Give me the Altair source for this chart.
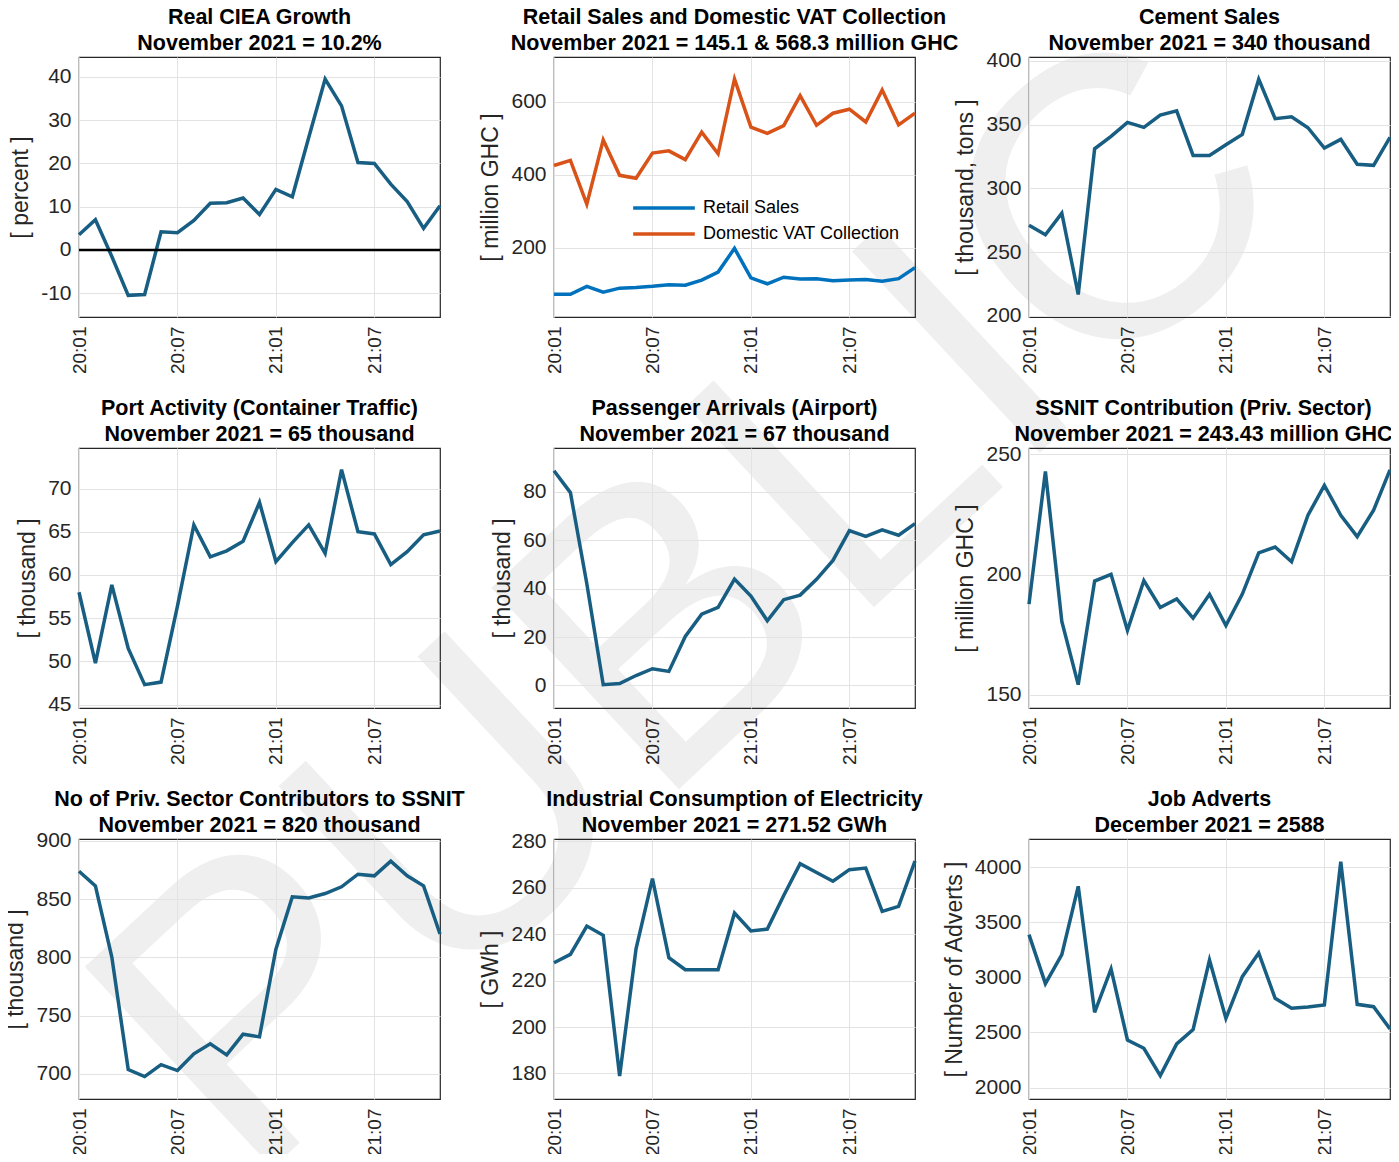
import altair as alt
import pandas as pd

months = ["20:01", "20:02", "20:03", "20:04", "20:05", "20:06", "20:07", "20:08",
          "20:09", "20:10", "20:11", "20:12", "21:01", "21:02", "21:03", "21:04",
          "21:05", "21:06", "21:07", "21:08", "21:09", "21:10", "21:11"]
tick_months = ["20:01", "20:07", "21:01", "21:07"]

ciea = [3.5, 7.0, -1.5, -10.5, -10.3, 4.2, 4.0, 6.8, 10.8, 10.9, 12.0, 8.2,
        14.0, 12.3, 26.0, 39.5, 33.3, 20.2, 20.0, 15.2, 11.2, 5.0, 10.2]
retail = [72, 72, 94, 78, 89, 91, 94, 98, 97, 111, 133, 198,
          117, 101, 119, 114, 115, 109, 111, 113, 108, 115, 145.1]
vat = [425, 439, 319, 495, 398, 390, 459, 465, 441, 516, 457, 662,
       530, 513, 534, 616, 535, 568, 579, 544, 632, 536, 568.3]
cement = [271, 263.5, 280.5, 216.7, 331, 340.7, 351.7, 347.8, 357.4, 360.8, 325.8, 325.8,
          334.2, 342.3, 385.6, 354.6, 356.1, 347.5, 331.6, 338.4, 318.8, 318.0, 340]
port = [58.0, 49.8, 58.85, 51.5, 47.3, 47.6, 56.4, 65.8, 62.1, 62.8, 63.9, 68.4,
        61.55, 63.75, 65.8, 62.5, 72.2, 65.0, 64.75, 61.2, 62.7, 64.65, 65.1]
passengers = [88.6, 79.6, 42.0, 0.3, 0.8, 4.1, 6.9, 5.8, 20.2, 29.4, 32.2, 43.9,
              36.9, 26.7, 35.4, 37.3, 43.8, 51.6, 63.9, 61.5, 64.2, 62.0, 66.8]
ssnit_contrib = [187.7, 242.8, 180.5, 154.3, 197.3, 200.1, 176.8, 197.5, 186.3, 189.9, 181.9, 191.8,
                 178.8, 191.9, 209.0, 211.4, 205.3, 224.6, 237.0, 224.6, 215.7, 226.7, 243.43]
ssnit_count = [873.9, 861.3, 800.3, 703.7, 697.7, 708.0, 702.9, 717.2, 725.8, 716.3, 734.1, 731.8,
               806.9, 851.9, 851.0, 854.7, 860.5, 871.3, 869.9, 882.5, 869.9, 861.3, 820]
electricity = [227.7, 231.3, 243.5, 239.5, 178.9, 233.7, 263.9, 229.9, 224.7, 224.7, 224.7, 249.1,
               241.4, 242.2, 256.7, 270.4, 266.6, 262.8, 267.8, 268.5, 249.8, 252.0, 271.52]
job_adverts = [3387, 2943, 3205, 3825, 2683, 3076, 2432, 2357, 2109, 2396, 2526, 3157,
               2628, 3006, 3221, 2810, 2719, 2731, 2749, 4048, 2755, 2734, 2532]

series_names = ["Retail Sales", "Domestic VAT Collection"]
series_colors = ["#0072BD", "#D95319"]

LINE = "#175E82"
FONT = "Liberation Sans"
W, H = 361, 260

xenc = alt.X("month:O", sort=months, scale=alt.Scale(type="point", padding=0),
             axis=alt.Axis(values=tick_months, labelAngle=270, grid=True, labelPadding=9),
             title=None)


def yenc(field, ylabel, domain, ticks):
    return alt.Y(field, scale=alt.Scale(domain=domain, nice=False, zero=False),
                 axis=alt.Axis(values=ticks, grid=True, labelPadding=8, titlePadding=8,
                               format="d", labelExpr="replace(datum.label, '\u2212', '-')"),
                 title=ylabel)


def title_marks(t1, t2, shift=0):
    out = []
    for txt, yy in ((t1, -33.5), (t2, -7)):
        out.append(alt.Chart(pd.DataFrame({"t": [txt]})).mark_text(
            font=FONT, fontSize=21.5, fontWeight="bold", color="black",
            align="center", baseline="alphabetic").encode(
            text="t:N", x=alt.value(W / 2 + shift), y=alt.value(yy)))
    return out


def titled(layers, t1, t2, shift=0):
    return alt.layer(*(layers + title_marks(t1, t2, shift))).properties(width=W, height=H)


def simple(values, ylabel, domain, ticks):
    df = pd.DataFrame({"month": months, "value": values})
    line = alt.Chart(df).mark_line(color=LINE, strokeWidth=3.5).encode(
        x=xenc, y=yenc("value:Q", ylabel, domain, ticks))
    return [line]


# Panel 1 with watermark and zero line
wm = alt.Chart(pd.DataFrame({"t": ["PUBLIC"]})).mark_text(
    font=FONT, fontSize=400, color="#efefef", angle=317, align="center",
    baseline="middle").encode(text="t:N", x=alt.value(616), y=alt.value(553))
p1_layers = simple(ciea, "[ percent ]", [-15.5, 44.6], [-10, 0, 10, 20, 30, 40])
zero = alt.Chart(pd.DataFrame({"z": [0]})).mark_rule(color="black", strokeWidth=2.5).encode(y="z:Q")
p1 = titled([wm] + p1_layers + [zero], "Real CIEA Growth", "November 2021 = 10.2%")

# Panel 2 with two series
df2 = pd.DataFrame({
    "month": months * 2,
    "value": retail + vat,
    "series": [series_names[0]] * len(months) + [series_names[1]] * len(months),
})
p2_line = alt.Chart(df2).mark_line(strokeWidth=3.5).encode(
    x=xenc, y=yenc("value:Q", "[ million GHC ]", [10, 722], [200, 400, 600]),
    color=alt.Color("series:N", sort=series_names,
                    scale=alt.Scale(domain=series_names, range=series_colors),
                    legend=alt.Legend(title=None, orient="none", legendX=552, legendY=138,
                                      symbolType="stroke", symbolSize=3800,
                                      symbolStrokeWidth=3.5, labelFontSize=18,
                                      labelFont=FONT, labelColor="black", labelOffset=6,
                                      labelLimit=400, rowPadding=0, clipHeight=26)))
p2 = titled([p2_line], "Retail Sales and Domestic VAT Collection",
            "November 2021 = 145.1 & 568.3 million GHC")

p3 = titled(simple(cement, "[ thousand, tons ]", [199, 403], [200, 250, 300, 350, 400]),
            "Cement Sales", "November 2021 = 340 thousand")
p4 = titled(simple(port, "[ thousand ]", [44.6, 74.7], [45, 50, 55, 60, 65, 70]),
            "Port Activity (Container Traffic)", "November 2021 = 65 thousand")
p5 = titled(simple(passengers, "[ thousand ]", [-9.3, 98], [0, 20, 40, 60, 80]),
            "Passenger Arrivals (Airport)", "November 2021 = 67 thousand")
p6 = titled(simple(ssnit_contrib, "[ million GHC ]", [144.6, 252.5], [150, 200, 250]),
            "SSNIT Contribution (Priv. Sector)", "November 2021 = 243.43 million GHC", shift=-6)
p7 = titled(simple(ssnit_count, "[ thousand ]", [678.5, 901.5], [700, 750, 800, 850, 900]),
            "No of Priv. Sector Contributors to SSNIT", "November 2021 = 820 thousand")
p8 = titled(simple(electricity, "[ GWh ]", [169, 281], [180, 200, 220, 240, 260, 280]),
            "Industrial Consumption of Electricity", "November 2021 = 271.52 GWh")
p9 = titled(simple(job_adverts, "[ Number of Adverts ]", [1897, 4254],
                   [2000, 2500, 3000, 3500, 4000]),
            "Job Adverts", "December 2021 = 2588")

chart = alt.concat(p1, p2, p3, p4, p5, p6, p7, p8, p9, columns=3,
                   spacing=alt.RowColnumber(row=131, column=114), bounds="flush")
chart = chart.properties(
    autosize=alt.AutoSizeParams(type="none"),
    padding={"left": 71, "top": 49, "right": 1, "bottom": 55},
).configure_view(stroke="#262626", strokeWidth=1.2).configure_axis(
    gridColor="#e3e3e3", gridWidth=1, domain=False, ticks=False,
    labelFont=FONT, labelColor="#262626",
    titleFont=FONT, titleFontSize=23, titleFontWeight="normal", titleColor="#262626",
).configure_axisX(labelFontSize=19).configure_axisY(labelFontSize=21)

chart.save("out.html", embed_options={"renderer": "svg", "actions": False,
                                      "width": 1311, "height": 1042})
